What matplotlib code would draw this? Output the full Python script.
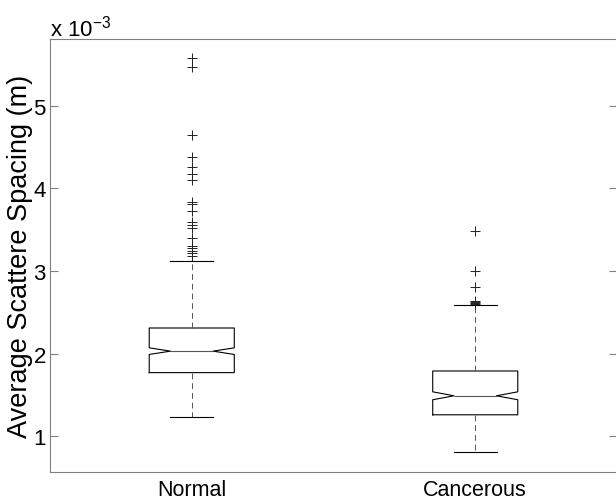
import matplotlib
matplotlib.use("Agg")
import matplotlib.pyplot as plt

plt.rcParams['font.family'] = ['Liberation Sans', 'DejaVu Sans']
plt.rcParams['mathtext.fontset'] = 'custom'
plt.rcParams['mathtext.rm'] = 'Liberation Sans'

categories = ["Normal", "Cancerous"]
# values in units of 1e-3 m
medians = [2.03, 1.49]
q1s = [1.77, 1.26]
q3s = [2.31, 1.79]
whis_lo = [1.23, 0.806]
whis_hi = [3.116, 2.584]
notch_half = [0.040, 0.048]
fliers_normal = [5.573, 5.464, 4.65, 4.376, 4.255, 4.174, 4.105, 3.839, 3.811,
                 3.723, 3.597, 3.557, 3.517, 3.396, 3.30, 3.274, 3.246, 3.218, 3.185]
fliers_cancer = [3.484, 2.995, 2.806, 2.635, 2.625, 2.615, 2.605]
yticks = [1, 2, 3, 4, 5]

stats = []
for i, name in enumerate(categories):
    stats.append(dict(
        label=name, med=medians[i], q1=q1s[i], q3=q3s[i],
        whislo=whis_lo[i], whishi=whis_hi[i],
        cilo=medians[i] - notch_half[i], cihi=medians[i] + notch_half[i],
        fliers=[fliers_normal, fliers_cancer][i]))

fig = plt.figure(figsize=(6.16, 5.02), dpi=100)
ax = fig.add_axes([50/616, 1 - 473/502, 567/616, 433/502])

ax.bxp(stats, positions=[1, 2], widths=0.3, shownotches=True,
       boxprops=dict(color='black', linewidth=0.8),
       medianprops=dict(color='#555555', linewidth=0.8),
       whiskerprops=dict(color='#555555', linewidth=0.7, linestyle=(0, (6, 4))),
       capprops=dict(color='black', linewidth=0.8),
       capwidths=0.15,
       flierprops=dict(marker='+', markeredgecolor='#222222', markersize=6.5,
                       markeredgewidth=0.7, linestyle='none'))

ax.set_xlim(0.5, 2.5)
ax.set_ylim(0.568, 5.806)
ax.set_yticks(yticks)
ax.set_yticklabels([str(v) for v in yticks], fontsize=16)
ax.set_xticks([1, 2])
ax.set_xticklabels(categories, fontsize=15.5)
ax.tick_params(axis='x', length=0, pad=5)
ax.tick_params(axis='y', direction='in', length=6, color='#808080', width=0.8,
               right=True, pad=3)
for s in ax.spines.values():
    s.set_color('#808080')
    s.set_linewidth(0.8)

ax.set_ylabel("Average Scattere Spacing (m)", fontsize=19.5, labelpad=0)
fig.text(50/616, 1 - 37/502, r"x 10$^{\mathrm{-3}}$", fontsize=16,
         ha='left', va='baseline')

fig.savefig("out.png", dpi=100)
